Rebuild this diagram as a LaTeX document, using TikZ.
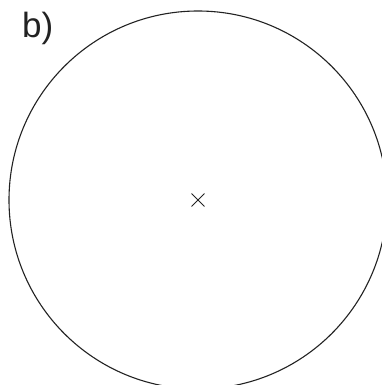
\documentclass[tikz,border=0pt]{standalone}
\usepackage{fontspec}
\setmainfont{Liberation Sans}
\usetikzlibrary{shapes.misc, positioning}
\definecolor{Ink}{HTML}{222222}
\tikzset{
  rim/.style={draw=Ink, line width=1.1pt},
  centremark/.style={draw=Ink, cross out, line width=0.9pt,
                     minimum size=12pt, inner sep=0pt},
  panellab/.style={font=\fontsize{35}{40}\selectfont, text=Ink,
                   anchor=base west, inner sep=0pt},
}
\begin{document}
\begin{tikzpicture}[x=1pt, y=-1pt]
    \useasboundingbox (0, 0) rectangle (382, 385);
    \clip (0, 0) rectangle (382, 385);
    \node[panellab] (lab) at (22, 38) {b)};
    \node[centremark] (ctr) at (198, 200) {};
    % outline runs past the right and bottom edges of the frame
    \draw[rim] (ctr.center) circle[radius=189];
  \end{tikzpicture}
\end{document}
